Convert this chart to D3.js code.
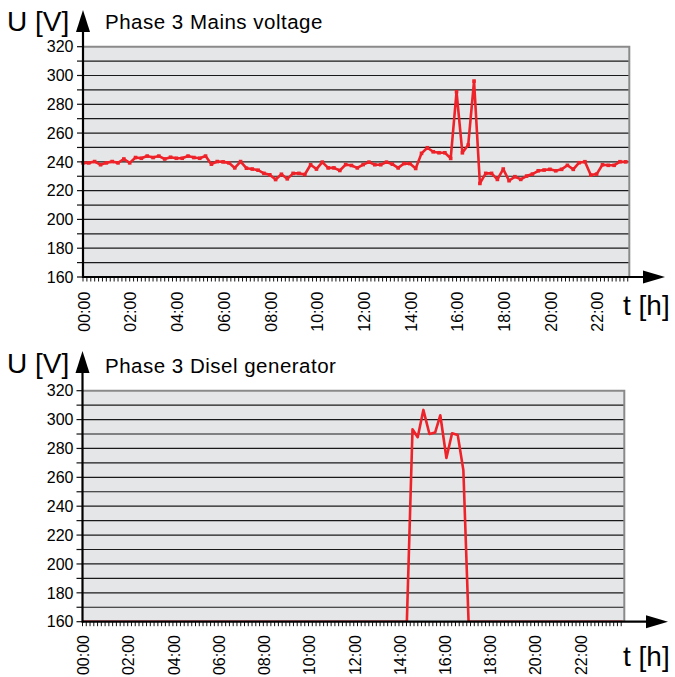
<!DOCTYPE html>
<html><head><meta charset="utf-8">
<script src="https://cdn.jsdelivr.net/npm/d3@7"></script>
<style>
body{margin:0;background:#fff}
svg{display:block}
text{font-family:"Liberation Sans",Arial,Helvetica,sans-serif;fill:#000}
</style>
</head><body>
<svg id="c" width="675" height="677"></svg>
<script>
// ---------- data ----------
const yTickValues = [160, 180, 200, 220, 240, 260, 280, 300, 320];
const xTickLabels = ["00:00","02:00","04:00","06:00","08:00","10:00","12:00","14:00","16:00","18:00","20:00","22:00"];
const xTickHours  = [0, 2, 4, 6, 8, 10, 12, 14, 16, 18, 20, 22];

// Phase 3 mains voltage, one reading every 15 minutes from 00:00
const mainsStepHours = 0.25;
const mainsVoltage = [
  239.3, 239.3, 240.2, 238.0, 239.3, 240.2, 239.3, 242.0, 239.3, 243.0,
  242.5, 244.0, 243.0, 244.0, 242.0, 243.2, 242.5, 242.5, 244.0, 243.0,
  242.5, 244.0, 238.4, 240.2, 240.0, 239.3, 235.8, 240.2, 235.6, 235.0,
  234.2, 232.0, 231.0, 227.7, 231.4, 228.2, 232.0, 232.0, 231.2, 238.0,
  235.0, 239.8, 235.8, 235.8, 234.0, 238.1, 237.5, 235.8, 238.1, 239.8,
  238.0, 238.0, 239.8, 238.4, 235.8, 238.8, 238.8, 235.4, 245.9, 249.8,
  247.0, 246.3, 246.3, 242.4, 288.7, 246.3, 251.7, 296.1, 225.0, 232.0,
  232.0, 227.8, 235.0, 226.9, 229.7, 227.8, 230.1, 231.5, 233.8, 234.3,
  234.8, 233.8, 234.8, 237.6, 234.8, 239.4, 240.1, 230.8, 231.5, 238.0,
  237.6, 237.6, 240.1, 240.0
];

// Phase 3 diesel generator (hours, volts); 160 = at/below axis floor
const genHours   = [0, 14.35, 14.6, 14.83, 15.08, 15.35, 15.6, 15.83, 16.1, 16.35, 16.6, 16.85, 17.08, 23.9];
const genVoltage = [160, 160, 293.3, 287.8, 306.7, 290.0, 291.0, 303.0, 273.4, 290.5, 289.4, 265.0, 160, 160];

// ---------- drawing ----------
const svg = d3.select("#c");
const RED = "#ee2229";

function panel(cfg) {
  const g = svg.append("g");
  const x = d3.scaleLinear().domain([0, cfg.xMax]).range([cfg.left, cfg.right]);
  const y = d3.scaleLinear().domain([160, 320]).range([cfg.bottom, cfg.top]);

  g.append("rect").attr("x", cfg.left).attr("y", cfg.top)
    .attr("width", cfg.right - cfg.left).attr("height", cfg.bottom - cfg.top)
    .attr("fill", "#e5e6e8");

  const gridVals = d3.range(170, 320, 10);
  g.selectAll(null).data(gridVals).enter().append("line")
    .attr("x1", cfg.left).attr("x2", cfg.right)
    .attr("y1", d => y(d)).attr("y2", d => y(d))
    .attr("stroke", "#1a1a1a").attr("stroke-width", 1.2);

  g.append("path")
    .attr("d", `M${cfg.left},${y(320)}H${cfg.right}V${cfg.bottom}`)
    .attr("fill", "none").attr("stroke", "#8a8a8a").attr("stroke-width", 2);

  const cid = "clip" + cfg.id;
  svg.append("clipPath").attr("id", cid).append("rect")
    .attr("x", cfg.left).attr("y", cfg.top - 2)
    .attr("width", cfg.right - cfg.left).attr("height", cfg.bottom - cfg.top + 2);

  const line = d3.line().x(d => x(d[0])).y(d => y(d[1]));
  g.append("path").datum(cfg.series)
    .attr("clip-path", `url(#${cid})`)
    .attr("d", line).attr("fill", "none")
    .attr("stroke", RED).attr("stroke-width", 2.6).attr("stroke-linejoin", "round");

  if (cfg.markers) {
    g.selectAll(null).data(cfg.series).enter().append("rect")
      .attr("x", d => x(d[0]) - 1.8).attr("y", d => y(d[1]) - 1.8)
      .attr("width", 3.6).attr("height", 3.6).attr("fill", RED);
  }

  const minor = d3.range(0, cfg.xMax + 1e-6, 1 / 6);
  g.selectAll(null).data(minor).enter().append("line")
    .attr("x1", d => x(d)).attr("x2", d => x(d))
    .attr("y1", cfg.bottom).attr("y2", cfg.bottom + 4.5)
    .attr("stroke", "#111").attr("stroke-width", 1);

  g.selectAll(null).data(d3.range(160, 321, 10)).enter().append("line")
    .attr("x1", cfg.left - 6).attr("x2", cfg.left)
    .attr("y1", d => y(d)).attr("y2", d => y(d))
    .attr("stroke", "#111").attr("stroke-width", 1.2);

  g.append("line").attr("x1", cfg.left).attr("x2", cfg.arrowX - 20)
    .attr("y1", cfg.bottom).attr("y2", cfg.bottom)
    .attr("stroke", "#000").attr("stroke-width", 2.2);
  g.append("line").attr("x1", cfg.left).attr("x2", cfg.left)
    .attr("y1", cfg.bottom + 1).attr("y2", cfg.arrowY + 20)
    .attr("stroke", "#000").attr("stroke-width", 2.2);

  g.append("path")
    .attr("d", `M${cfg.arrowX},${cfg.bottom} L${cfg.arrowX - 22},${cfg.bottom - 6.5} L${cfg.arrowX - 22},${cfg.bottom + 6.5}Z`)
    .attr("fill", "#000");
  g.append("path")
    .attr("d", `M${cfg.left},${cfg.arrowY} L${cfg.left - 7},${cfg.arrowY + 22} L${cfg.left + 7},${cfg.arrowY + 22}Z`)
    .attr("fill", "#000");

  g.selectAll(null).data(yTickValues).enter().append("text")
    .attr("x", 73.5).attr("y", d => y(d)).attr("dy", "0.36em")
    .attr("text-anchor", "end").attr("font-size", 16).text(d => d);

  g.selectAll(null).data(xTickHours).enter().append("text")
    .attr("transform", d => `translate(${x(d) + 1},${cfg.bottom + cfg.labelGap}) rotate(-90)`)
    .attr("dy", "0.36em").attr("text-anchor", "end").attr("font-size", 16)
    .text((d, i) => xTickLabels[i]);

  g.append("text").attr("x", 7).attr("y", cfg.uBase).attr("font-size", 28).text("U [V]");
  g.append("text").attr("x", 623).attr("y", cfg.tBase).attr("font-size", 28).text("t [h]");
  g.append("text").attr("x", 105).attr("y", cfg.titleBase).attr("font-size", 20.5)
    .attr("letter-spacing", 0.5).text(cfg.title);
}

panel({
  id: 1, left: 83, right: 629.3, top: 46.7, bottom: 277, xMax: 23.4,
  arrowX: 665, arrowY: 10, labelGap: 14.7, uBase: 31, tBase: 315, titleBase: 28.5,
  title: "Phase 3 Mains voltage",
  series: mainsVoltage.map((v, i) => [i * mainsStepHours, v]),
  markers: true
});

panel({
  id: 2, left: 82.5, right: 624.3, top: 390.7, bottom: 621.7, xMax: 23.97,
  arrowX: 668, arrowY: 351, labelGap: 13.3, uBase: 373, tBase: 666, titleBase: 373,
  title: "Phase 3 Disel generator",
  series: genHours.map((h, i) => [h, genVoltage[i]]),
  markers: false
});
</script>
</body></html>
